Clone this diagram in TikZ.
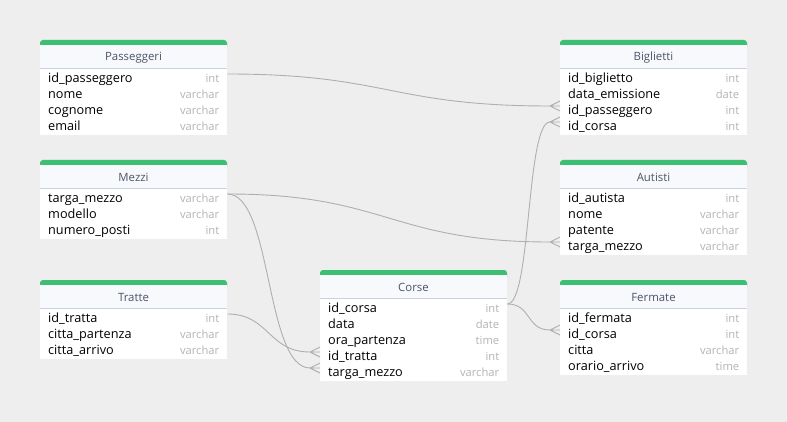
\documentclass[tikz,border=0pt]{standalone}
\usepackage{fontspec}
\setmainfont{Open Sans}
\usepackage{tikz}

\definecolor{sfondo}{RGB}{238,238,238}
\definecolor{verde}{RGB}{60,190,115}
\definecolor{testa}{RGB}{247,249,252}
\definecolor{bordo}{RGB}{200,210,225}
\definecolor{titolo}{RGB}{75,85,105}
\definecolor{tipogr}{RGB}{180,180,180}
\definecolor{linea}{RGB}{175,175,175}

% #1 name, #2 x, #3 y, #4 title, #5 rows, #6 fields
\newcommand{\tabella}[6]{%
  \fill[verde, rounded corners=3pt] (#2,#3) rectangle ++(187,10);
  \fill[testa] (#2,#3+5) rectangle ++(187,23);
  \fill[white] (#2,#3+28) rectangle ++(187,3+16*#5);
  \draw[bordo] (#2,#3+28) -- ++(187,0);
  \node[testata] (#1) at (#2+93.5,#3+17.5) {#4};
  \foreach \campo/\tipo [count=\i] in {#6} {
    \node[riga] (#1-\i) at (#2,#3+39.5+16*\i-16) {\campo};
    \node[tipo] at (#1-\i.base east) {\tipo};
    \coordinate (#1-\i-s) at ([yshift=5.5pt]#1-\i.west);
    \coordinate (#1-\i-d) at ([yshift=5.5pt]#1-\i.east);
  }
}
\newcommand{\zampa}[1]{%
  \draw[rel] ([xshift=-10pt]#1) -- ([yshift=5pt]#1)
             ([xshift=-10pt]#1) -- ([yshift=-5pt]#1)
             ([xshift=-10pt]#1) -- (#1);
}

\begin{document}
\begin{tikzpicture}[x=1pt,y=-1pt,
  riga/.style={anchor=west,text width=171pt,inner xsep=8pt,inner ysep=0pt,
    minimum height=16pt,text height=9pt,text depth=3pt,align=left,
    font=\fontsize{12.7}{14}\selectfont},
  tipo/.style={anchor=base east,inner xsep=8pt,text=tipogr,
    font=\fontsize{11.2}{13}\selectfont},
  testata/.style={inner sep=0pt,text=titolo,font=\fontsize{11.4}{13}\selectfont},
  rel/.style={draw=linea,line width=0.9pt}]

  \useasboundingbox (0,0) rectangle (787,422);
  \fill[sfondo] (0,0) rectangle (787,422);

  \tabella{pass}{40}{40}{Passeggeri}{4}{id\_passeggero/int, nome/varchar,
    cognome/varchar, email/varchar}
  \tabella{big}{560}{40}{Biglietti}{4}{id\_biglietto/int, data\_emissione/date,
    id\_passeggero/int, id\_corsa/int}
  \tabella{mez}{40}{160}{Mezzi}{3}{targa\_mezzo/varchar, modello/varchar,
    numero\_posti/int}
  \tabella{aut}{560}{160}{Autisti}{4}{id\_autista/int, nome/varchar,
    patente/varchar, targa\_mezzo/varchar}
  \tabella{tra}{40}{280}{Tratte}{3}{id\_tratta/int, citta\_partenza/varchar,
    citta\_arrivo/varchar}
  \tabella{cor}{320}{270}{Corse}{5}{id\_corsa/int, data/date, ora\_partenza/time,
    id\_tratta/int, targa\_mezzo/varchar}
  \tabella{fer}{560}{280}{Fermate}{4}{id\_fermata/int, id\_corsa/int,
    citta/varchar, orario\_arrivo/time}

  \draw[rel] (pass-1-d) .. controls +(160,0) and +(-160,0) .. ([xshift=-10pt]big-3-s);
  \draw[rel] (cor-1-d) .. controls +(24,0) and +(-24,0) .. ([xshift=-10pt]big-4-s);
  \draw[rel] (cor-1-d) .. controls +(24,0) and +(-24,0) .. ([xshift=-10pt]fer-2-s);
  \draw[rel] (mez-1-d) .. controls +(160,0) and +(-160,0) .. ([xshift=-10pt]aut-4-s);
  \draw[rel] (mez-1-d) .. controls +(45,0) and +(-45,0) .. ([xshift=-10pt]cor-5-s);
  \draw[rel] (tra-1-d) .. controls +(42,0) and +(-42,0) .. ([xshift=-10pt]cor-4-s);

  \zampa{big-3-s}
  \zampa{big-4-s}
  \zampa{fer-2-s}
  \zampa{aut-4-s}
  \zampa{cor-5-s}
  \zampa{cor-4-s}

\end{tikzpicture}
\end{document}
